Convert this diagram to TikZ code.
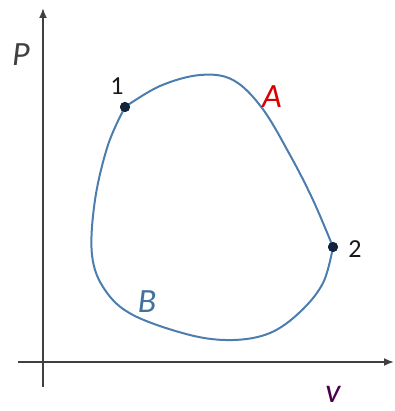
\documentclass[tikz,border=0pt]{standalone}
\usepackage{fontspec}
\setmainfont{Carlito}
\usetikzlibrary{arrows.meta, positioning}

\definecolor{pathblue}{RGB}{75,125,175}
\definecolor{dotnavy}{RGB}{20,35,60}

\begin{document}
\begin{tikzpicture}[x=1pt, y=-1pt,
  axis/.style={line width=1.8pt, draw=black!75, -{Latex[length=10pt,width=8pt]}},
  lbl/.style={font=\fontsize{34}{36}\selectfont\itshape, inner sep=0pt},
  num/.style={font=\fontsize{26}{28}\selectfont, inner sep=0pt, text=black!90},
  statept/.style={circle, fill=dotnavy, minimum size=10pt, inner sep=0pt}]

  \useasboundingbox (0,0) rectangle (394,411);

  % axes
  \coordinate (o) at (43,362);
  \coordinate (ybot) at (43,387);
  \coordinate (ytop) at (43,8);
  \coordinate (xleft) at (18,362);
  \coordinate (xright) at (394,362);
  \draw[axis] (ybot) -- (ytop);
  \draw[axis] (xleft) -- (xright);
  \node[lbl, text=black!75] (plbl) at (21,55) {P};
  \node[lbl, text=violet!60!black] (vlbl) at (333,394) {v};

  % states
  \node[statept] (s1) at (125,107) {};
  \node[statept] (s2) at (333,247) {};
  \node[num] (n1) at (117,86) {1};
  \node[num] (n2) at (355,249) {2};

  % process A (upper) and B (lower)
  \draw[pathblue, line width=2pt] plot[smooth, tension=0.6] coordinates {
    (125,107) (160,86) (200,75) (233,80) (262,108) (290,155) (313,200) (333,247)};
  \draw[pathblue, line width=2pt] plot[smooth, tension=0.6] coordinates {
    (333,247) (323,283) (300,312) (270,333) (233,340) (190,335) (133,315)
    (105,290) (92,255) (95,200) (108,145) (125,107)};
  \node[statept] at (s1) {};
  \node[statept] at (s2) {};

  \node[lbl, text=red!85!black] (albl) at (272,97) {A};
  \node[lbl, text=pathblue!90!black] (blbl) at (147,302) {B};

\end{tikzpicture}
\end{document}
